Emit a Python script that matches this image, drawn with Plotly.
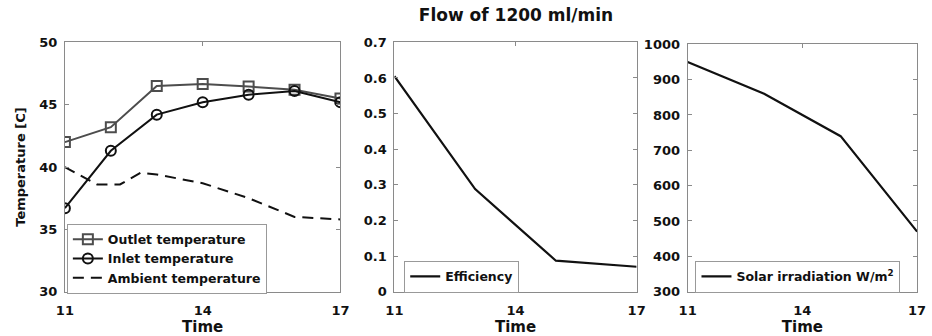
import plotly.graph_objects as go

# ---- data ----
hours = [11, 12, 13, 14, 15, 16, 17]
outlet_temp = [42.0, 43.2, 46.5, 46.65, 46.45, 46.2, 45.5]
inlet_temp = [36.7, 41.3, 44.2, 45.2, 45.8, 46.1, 45.2]
ambient_hours = [11, 11.7, 12.2, 12.65, 13, 14, 15, 16, 17]
ambient_temp = [40.0, 38.6, 38.6, 39.55, 39.4, 38.7, 37.5, 36.0, 35.8]
eff_hours = [11, 13, 15, 17]
efficiency = [0.605, 0.288, 0.087, 0.07]
sol_hours = [11, 13, 15, 17]
solar = [950, 860, 740, 470]
x_ticks = [11, 14, 17]
temp_ticks = [30, 35, 40, 45, 50]
eff_ticks = [0, 0.1, 0.2, 0.3, 0.4, 0.5, 0.6, 0.7]
eff_labels = ["0", "0.1", "0.2", "0.3", "0.4", "0.5", "0.6", "0.7"]
sol_ticks = [300, 400, 500, 600, 700, 800, 900, 1000]

W, H = 932, 336
FONT = "DejaVu Sans, Verdana, sans-serif"
AX = "#8a8a8a"
INK = "#111111"

def px(x):
    return x / W

def py(y):
    return 1 - y / H

fig = go.Figure()

fig.add_trace(go.Scatter(x=hours, y=outlet_temp, name="Outlet temperature", mode="lines+markers",
                         line=dict(color="#4d4d4d", width=2),
                         marker=dict(symbol="square-open", size=10, color="#4d4d4d", line=dict(width=2)),
                         xaxis="x", yaxis="y", legend="legend"))
fig.add_trace(go.Scatter(x=hours, y=inlet_temp, name="Inlet temperature", mode="lines+markers",
                         line=dict(color=INK, width=2),
                         marker=dict(symbol="circle-open", size=10, color=INK, line=dict(width=2)),
                         xaxis="x", yaxis="y", legend="legend"))
fig.add_trace(go.Scatter(x=ambient_hours, y=ambient_temp, name="Ambient temperature", mode="lines",
                         line=dict(color=INK, width=2, dash="11px,7px"),
                         xaxis="x", yaxis="y", legend="legend"))
fig.add_trace(go.Scatter(x=eff_hours, y=efficiency, name="Efficiency", mode="lines",
                         line=dict(color=INK, width=2.2),
                         xaxis="x2", yaxis="y2", legend="legend2"))
fig.add_trace(go.Scatter(x=sol_hours, y=solar, name="Solar irradiation W/m<sup>2</sup>", mode="lines",
                         line=dict(color=INK, width=2.2),
                         xaxis="x3", yaxis="y3", legend="legend3"))

tickfont = dict(family=FONT, size=13, color=INK, weight="bold")
titlefont = dict(family=FONT, size=15, color=INK, weight="bold")

def xaxis(dom, anchor):
    return dict(domain=dom, anchor=anchor, range=[11, 17], tickvals=x_ticks,
                ticktext=[str(v) for v in x_ticks], tickfont=tickfont, ticklabelstandoff=7,
                showline=True, linecolor=AX, linewidth=1, mirror="allticks",
                ticks="inside", ticklen=4, tickcolor=AX, showgrid=False, zeroline=False,
                title=dict(text="Time", font=titlefont, standoff=4))

def yaxis(dom, anchor, rng, vals, labels, title=None):
    d = dict(domain=dom, anchor=anchor, range=rng, tickvals=vals,
             ticktext=[str(t) for t in labels], tickfont=tickfont, ticklabelstandoff=4,
             showline=True, linecolor=AX, linewidth=1, mirror="allticks",
             ticks="inside", ticklen=4, tickcolor=AX, showgrid=False, zeroline=False)
    if title:
        d["title"] = dict(text=title, font=dict(family=FONT, size=13, color=INK, weight="bold"), standoff=10)
    return d

ydom = [py(298), py(37)]
ydom3 = [py(298), py(39)]

legend_common = dict(bgcolor="white", bordercolor="#999999", borderwidth=1,
                     font=dict(family=FONT, size=12.5, color=INK, weight="bold"),
                     xanchor="left", yanchor="bottom", tracegroupgap=0, itemwidth=30)

fig.update_layout(
    width=W, height=H, margin=dict(l=0, r=0, t=0, b=0),
    paper_bgcolor="white", plot_bgcolor="white",
    font=dict(family=FONT),
    title=dict(text="Flow of 1200 ml/min", x=px(516), xanchor="center", y=py(15), yanchor="middle",
               font=dict(family=FONT, size=17, color=INK, weight="bold")),
    xaxis=xaxis([px(57), px(338)], "y"),
    yaxis=yaxis(ydom, "x", [30, 50], temp_ticks, temp_ticks, "Temperature [C]"),
    xaxis2=xaxis([px(393), px(640)], "y2"),
    yaxis2=yaxis(ydom, "x2", [0, 0.7], eff_ticks, eff_labels),
    xaxis3=xaxis([px(692), px(926)], "y3"),
    yaxis3=yaxis(ydom3, "x3", [300, 1000], sol_ticks, sol_ticks),
    legend=dict(x=px(59), y=py(300), **legend_common),
    legend2=dict(x=px(403), y=py(299), **legend_common),
    legend3=dict(x=px(700), y=py(299), **legend_common),
    showlegend=True,
)

fig.write_html("out.html")
